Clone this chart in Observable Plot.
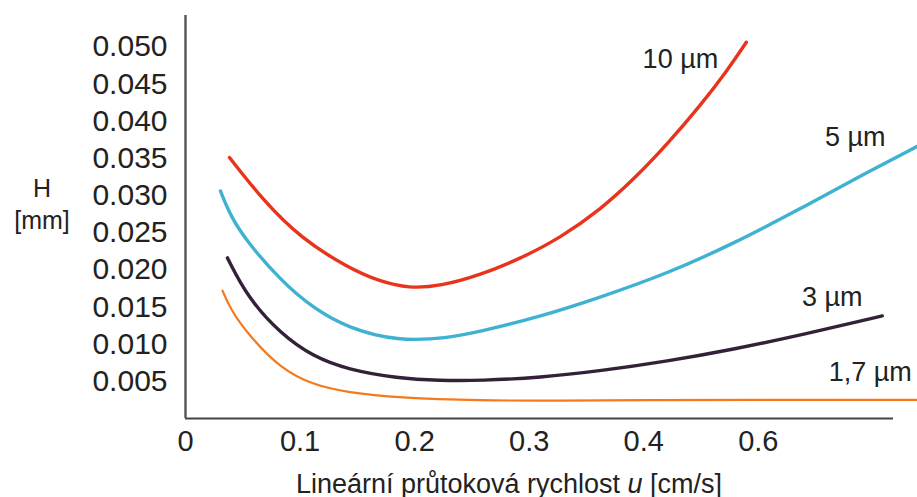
<!DOCTYPE html>
<html><head><meta charset="utf-8">
<script src="https://cdn.jsdelivr.net/npm/d3@7"></script>
<script src="https://cdn.jsdelivr.net/npm/@observablehq/plot@0.6"></script>
<style>
body{margin:0;background:#fff;font-family:"Liberation Sans",Arial,Helvetica,sans-serif;}
#wrap{position:relative;width:917px;height:497px;overflow:hidden;}
.lab{position:absolute;color:#222;white-space:nowrap;transform:translate(-50%,-50%);line-height:1;}
</style></head><body><div id="wrap"></div>
<script>
// Tick values and labels (the original axis labels skip 0.5)
const xTickValues = [0, 0.1, 0.2, 0.3, 0.4, 0.5];
const xTickLabels = ["0", "0.1", "0.2", "0.3", "0.4", "0.6"];
const yTickValues = [0.005, 0.010, 0.015, 0.020, 0.025, 0.030, 0.035, 0.040, 0.045, 0.050];

// Series
const seriesNames = ["10 µm", "5 µm", "3 µm", "1,7 µm"];
const seriesColors = ["#e8341c", "#3fb2d2", "#35203a", "#f47a1e"];

const u10 = [0.0384,0.068,0.1003,0.1414,0.1700,0.1950,0.2225,0.2574,0.2923,0.3272,0.3621,0.3909,0.4206,0.4494,0.4729,0.4895];
const h10 = [0.0351,0.0293,0.0243,0.0203,0.0184,0.0175,0.0178,0.0193,0.0215,0.0243,0.0281,0.0321,0.0369,0.0421,0.0468,0.0506];

const u5 = [0.0305,0.0393,0.0541,0.0829,0.1117,0.1414,0.1850,0.2286,0.2574,0.3098,0.3621,0.4206,0.4782,0.5366,0.5951,0.6387];
const h5 = [0.0306,0.0272,0.0237,0.0186,0.0148,0.0122,0.0104,0.0108,0.0117,0.0137,0.0163,0.0195,0.0235,0.0282,0.0331,0.0366];

const u3 = [0.0366,0.0541,0.0829,0.1117,0.1414,0.1850,0.2225,0.2574,0.3098,0.3621,0.4206,0.4782,0.5366,0.6082];
const h3 = [0.0216,0.0163,0.0114,0.0083,0.0066,0.0054,0.0051,0.0051,0.0055,0.0064,0.0077,0.0093,0.0112,0.0138];

const u17 = [0.0323,0.0393,0.0541,0.0829,0.1117,0.1414,0.1850,0.2574,0.3272,0.3970,0.5017,0.6387];
const h17 = [0.0172,0.0147,0.0114,0.0067,0.0045,0.0035,0.0028,0.0024,0.0024,0.0025,0.0025,0.0025];

// Curve label anchors (data units)
const labelU = [0.432, 0.5846, 0.5646, 0.5977];
const labelH = [0.0483, 0.0378, 0.0163, 0.0062];

const allU = [u10, u5, u3, u17];
const allH = [h10, h5, h3, h17];
const rows = [];
allU.forEach((us, s) => us.forEach((u, i) => rows.push({series: seriesNames[s], u, h: allH[s][i]})));
const labels = seriesNames.map((name, i) => ({name, u: labelU[i], h: labelH[i]}));

const W = 917, H = 497;
const mL = 185, mT = 15, mB = 79, mR = 24;

const plot = Plot.plot({
  width: W, height: H,
  marginLeft: mL, marginTop: mT, marginBottom: mB, marginRight: mR,
  style: {fontFamily: '"Liberation Sans", Arial, Helvetica, sans-serif', color: "#222", background: "#fff", overflow: "visible"},
  x: {domain: [0, 0.618]},
  y: {domain: [0, 0.0542]},
  color: {domain: seriesNames, range: seriesColors},
  marks: [
    Plot.axisX({ticks: xTickValues, tickFormat: (d, i) => xTickLabels[i], tickSize: 0, tickPadding: 12, fontSize: 29, label: null}),
    Plot.axisY({ticks: yTickValues, tickFormat: d3.format(".3f"), tickSize: 0, tickPadding: 18, fontSize: 30, label: null}),
    Plot.line(rows.filter(d => d.series !== "1,7 µm"), {x: "u", y: "h", z: "series", stroke: "series", strokeWidth: 3.4, curve: "basis"}),
    Plot.line(rows.filter(d => d.series === "1,7 µm"), {x: "u", y: "h", stroke: "series", strokeWidth: 2.2, curve: "basis"}),
    Plot.ruleY([0], {stroke: "#444", strokeWidth: 2}),
    Plot.ruleX([0], {stroke: "#555", strokeWidth: 2.4}),
    Plot.text(labels, {x: "u", y: "h", text: "name", fontSize: 27, fill: "#222"})
  ]
});
const wrap = document.getElementById("wrap");
wrap.appendChild(plot);

function addLabel(html, x, y, size) {
  const d = document.createElement("div");
  d.className = "lab";
  d.innerHTML = html;
  d.style.left = x + "px";
  d.style.top = y + "px";
  d.style.fontSize = size + "px";
  wrap.appendChild(d);
}
addLabel("H", 42, 188, 25);
addLabel("[mm]", 42, 220, 25);
addLabel("Lineární průtoková rychlost <i>u</i> [cm/s]", 509, 484, 27);
</script></body></html>
